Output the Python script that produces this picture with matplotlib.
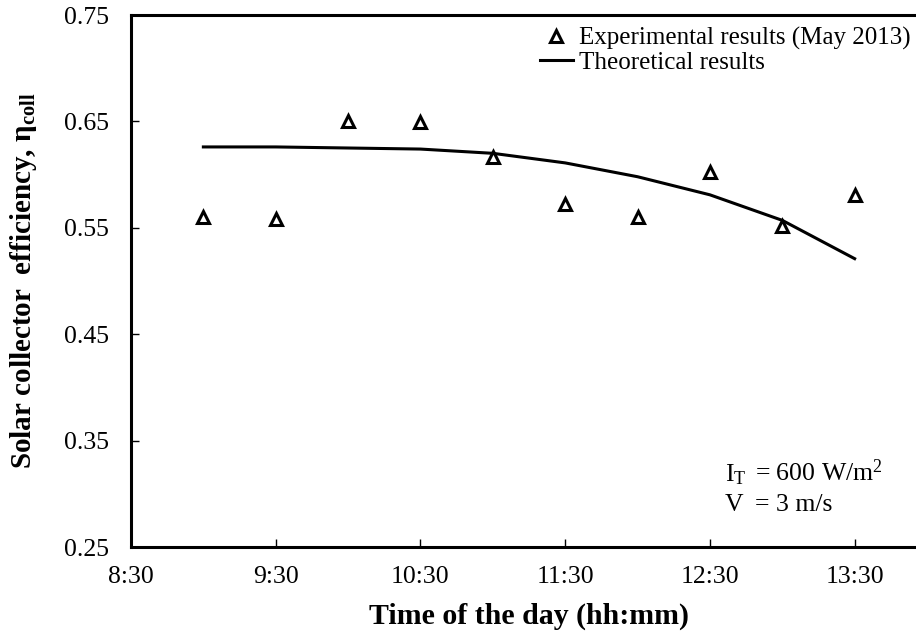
import numpy as np
import matplotlib
matplotlib.use('Agg')
import matplotlib.pyplot as plt

plt.rcParams['font.family'] = ['Liberation Serif', 'DejaVu Serif']
plt.rcParams['mathtext.fontset'] = 'custom'
plt.rcParams['mathtext.rm'] = 'Liberation Serif'
plt.rcParams['mathtext.it'] = 'Liberation Serif:italic'
plt.rcParams['mathtext.bf'] = 'Liberation Serif:bold'

### DATA
exp_times = ['9:00', '9:30', '10:00', '10:30', '11:00', '11:30', '12:00', '12:30', '13:00', '13:30']
exp_eff = [0.560, 0.558, 0.650, 0.649, 0.617, 0.572, 0.560, 0.602, 0.552, 0.581]

theo_times = ['9:00', '9:30', '10:00', '10:30', '11:00', '11:30', '12:00', '12:30', '13:00', '13:30']
theo_eff = [0.626, 0.626, 0.625, 0.624, 0.620, 0.611, 0.598, 0.581, 0.557, 0.521]

tick_labels = ['8:30', '9:30', '10:30', '11:30', '12:30', '13:30']
yticks = [0.25, 0.35, 0.45, 0.55, 0.65, 0.75]

def to_hours(s):
    h, m = s.split(':')
    return int(h) + int(m) / 60.0

xe = [to_hours(t) for t in exp_times]
xt = [to_hours(t) for t in theo_times]
xticks = [to_hours(t) for t in tick_labels]

### PLOT
fig = plt.figure(figsize=(9.16, 6.36), dpi=100)
# right spine cut off by the image edge, as in the original
ax = fig.add_axes([131/916, 1 - 547/636, (927 - 131)/916, (547 - 15)/636])

ax.plot(xe, exp_eff, linestyle='none', marker='^', markersize=9,
        markerfacecolor='white', markeredgecolor='black', markeredgewidth=2.2,
        label='Experimental results (May 2013)')
ax.plot(xt, theo_eff, 'k-', linewidth=2.2, label='Theoretical results')

ax.set_xlim(8.5, 14.0)
ax.set_ylim(0.25, 0.75)
ax.set_xticks(xticks)
ax.set_xticklabels(tick_labels)
ax.set_yticks(yticks)
ax.set_yticklabels(['%.2f' % v for v in yticks])
ax.tick_params(direction='in', length=6, width=1, labelsize=18.5)
ax.tick_params(axis='x', pad=14)
ax.tick_params(axis='y', pad=16)
for sp in ax.spines.values():
    sp.set_linewidth(2.2)

ax.set_xlabel('Time of the day (hh:mm)', fontsize=21.5, fontweight='bold', labelpad=10)
ax.set_ylabel(r'Solar collector  efficiency, $\mathbf{\eta_{coll}}$', fontsize=21,
              fontweight='bold', labelpad=18)

leg = ax.legend(loc='upper left', bbox_to_anchor=(0.514, 0.978), frameon=False,
                fontsize=18, handlelength=1.3, handletextpad=0.25, labelspacing=0.05,
                borderpad=0, borderaxespad=0)

# operating conditions note
ax.text(0.746, 0.124, r'I$_\mathrm{T}$', transform=ax.transAxes, fontsize=18.5, va='baseline')
ax.text(0.784, 0.124, r'= 600 W/m$^2$', transform=ax.transAxes, fontsize=18.5, va='baseline')
ax.text(0.746, 0.068, 'V', transform=ax.transAxes, fontsize=18.5, va='baseline')
ax.text(0.784, 0.068, '= 3 m/s', transform=ax.transAxes, fontsize=18.5, va='baseline')

fig.savefig('out.png', dpi=100)
